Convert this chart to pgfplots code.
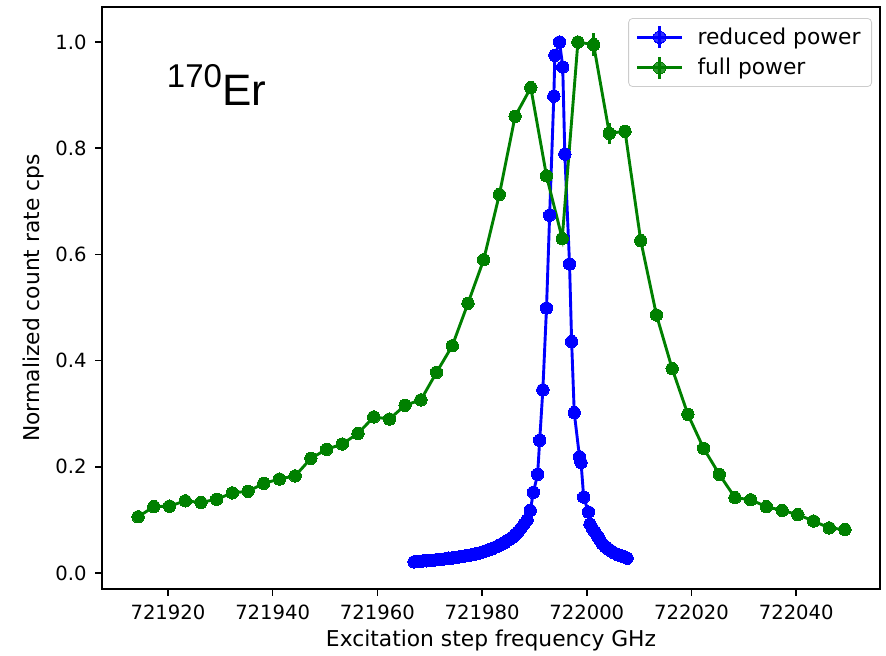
\documentclass[border=0pt]{standalone}
\usepackage{pgfplots}
\pgfplotsset{compat=1.18}
\usepackage{pgfplotstable}
\usepackage{fontspec}
\setmainfont{DejaVu Sans}
\newfontfamily\arial{Liberation Sans}
\definecolor{mplblue}{HTML}{0000FF}
\definecolor{mplgreen}{HTML}{008000}

\pgfplotstableread{
x y
721967.0 0.021
721967.6 0.022
721968.2 0.022
721968.8 0.023
721969.4 0.023
721970.0 0.024
721970.6 0.024
721971.2 0.025
721971.8 0.026
721972.4 0.026
721973.0 0.027
721973.6 0.028
721974.2 0.028
721974.8 0.029
721975.4 0.030
721976.0 0.031
721976.6 0.032
721977.2 0.033
721977.8 0.034
721978.4 0.035
721979.0 0.037
721979.6 0.038
721980.2 0.040
721980.8 0.042
721981.4 0.044
721982.0 0.046
721982.6 0.049
721983.2 0.052
721983.8 0.055
721984.4 0.058
721985.0 0.062
721985.6 0.066
721986.2 0.071
721986.8 0.077
721987.4 0.084
721988.0 0.092
721988.6 0.100
721989.2 0.118
721989.8 0.152
721990.6 0.186
721991.0 0.250
721991.6 0.345
721992.3 0.499
721992.9 0.674
721993.7 0.898
721993.9 0.975
721994.8 1.000
721995.4 0.953
721995.8 0.789
721996.7 0.582
721997.1 0.436
721997.6 0.302
721998.6 0.219
721998.9 0.208
721999.4 0.143
722000.3 0.115
722000.6 0.092
722001.0 0.085
722001.5 0.078
722002.0 0.070
722002.5 0.062
722003.0 0.055
722003.5 0.050
722004.0 0.046
722004.6 0.042
722005.2 0.038
722005.8 0.035
722006.4 0.033
722007.0 0.031
722007.7 0.028
}\reduced

\pgfplotstableread{
x y
721914.3 0.106
721917.3 0.125
721920.3 0.126
721923.3 0.136
721926.3 0.133
721929.3 0.139
721932.3 0.151
721935.3 0.154
721938.3 0.169
721941.3 0.177
721944.3 0.183
721947.3 0.216
721950.3 0.233
721953.3 0.243
721956.3 0.263
721959.3 0.294
721962.3 0.290
721965.3 0.316
721968.3 0.326
721971.3 0.378
721974.3 0.428
721977.3 0.508
721980.3 0.590
721983.3 0.713
721986.3 0.860
721989.3 0.914
721992.3 0.748
721995.3 0.630
721998.3 1.000
722001.3 0.995
722004.3 0.828
722007.3 0.832
722010.3 0.626
722013.3 0.486
722016.3 0.385
722019.3 0.299
722022.3 0.235
722025.3 0.186
722028.3 0.142
722031.3 0.138
722034.3 0.125
722037.3 0.118
722040.3 0.110
722043.3 0.098
722046.3 0.085
722049.3 0.082
}\full

\begin{document}
\begin{tikzpicture}
\pgfplotsset{
  errleg/.style={legend image code/.code={
    \draw[##1, mark=none] (0cm,0cm) -- (0.79cm,0cm);
    \draw[##1, mark=none] (0.395cm,-5.4pt) -- (0.395cm,5.4pt);
    \draw[##1, mark repeat=2, mark phase=2] plot coordinates {(0cm,0cm)(0.395cm,0cm)(0.79cm,0cm)};
  }}
}
\begin{axis}[
  at={(0,0)}, anchor=south west,
  scale only axis, width=389pt, height=291pt,
  xmin=721907.4, xmax=722056.0,
  ymin=-0.03, ymax=1.066,
  font=\fontsize{9.8}{11.8}\selectfont,
  /pgf/number format/assume math mode=true,
  scaled x ticks=false, scaled y ticks=false,
  xtick={721920,721940,721960,721980,722000,722020,722040},
  xticklabels={721920,721940,721960,721980,722000,722020,722040},
  ytick={0,0.2,0.4,0.6,0.8,1.0},
  yticklabels={0.0,0.2,0.4,0.6,0.8,1.0},
  xtick pos=bottom, ytick pos=left,
  tick align=outside, major tick length=3.35pt,
  tick style={line width=0.77pt, black},
  axis line style={line width=0.77pt},
  xticklabel style={yshift=-1.2pt},
  yticklabel style={xshift=-0.8pt},
  xlabel={Excitation step frequency GHz},
  ylabel={Normalized count rate cps},
  every axis x label/.style={at={([yshift=-25.5pt]axis description cs:0.5,0)}, anchor=center, font=\fontsize{10.9}{13}\selectfont},
  every axis y label/.style={at={([xshift=-34.5pt]axis description cs:0,0.5)}, anchor=center, rotate=90, font=\fontsize{10.9}{13}\selectfont},
  legend style={at={(0.9897,0.981)}, anchor=north east, draw=black!20, rounded corners=2pt,
    fill=white, fill opacity=0.8, text opacity=1, inner xsep=3.5pt, inner ysep=2.5pt,
    row sep=1.5pt, font=\fontsize{10.9}{13}\selectfont,
    /tikz/every odd column/.append style={column sep=5pt}},
  legend cell align=left,
  clip=false,
]
\addplot[forget plot, mplblue, line width=1.45pt, mark=*, mark size=3.1pt,
  mark options={solid, fill=mplblue, draw=mplblue, line width=0pt}]
  table[x=x, y=y]{\reduced};
\addplot[forget plot, mplgreen, line width=1.45pt, only marks, mark=none,
  error bars/.cd, y dir=both, y explicit, error mark=none,
  error bar style={line width=1.45pt, mplgreen}]
  coordinates {(722001.3,0.995) +- (0,0.022) (722004.3,0.828) +- (0,0.020)};
\addplot[forget plot, mplgreen, line width=1.45pt, mark=*, mark size=3.1pt,
  mark options={solid, fill=mplgreen, draw=mplgreen, line width=0pt}]
  table[x=x, y=y]{\full};
\addlegendimage{errleg, mplblue, line width=1.45pt, mark=*, mark size=3.1pt, mark options={solid, fill=mplblue, draw=mplblue, line width=0pt}}
\addlegendentry{reduced power}
\addlegendimage{errleg, mplgreen, line width=1.45pt, mark=*, mark size=3.1pt, mark options={solid, fill=mplgreen, draw=mplgreen, line width=0pt}}
\addlegendentry{full power}
\node[anchor=base west, inner sep=0pt] at (axis description cs:0.083,0.830)
  {\arial{\fontsize{16.5}{16.5}\selectfont\raisebox{9.2pt}{170}}{\fontsize{22}{22}\selectfont Er}};
\end{axis}
\pgfresetboundingbox
\path[use as bounding box] (-51pt,-33.5pt) rectangle (392pt,294.5pt);
\end{tikzpicture}
\end{document}
